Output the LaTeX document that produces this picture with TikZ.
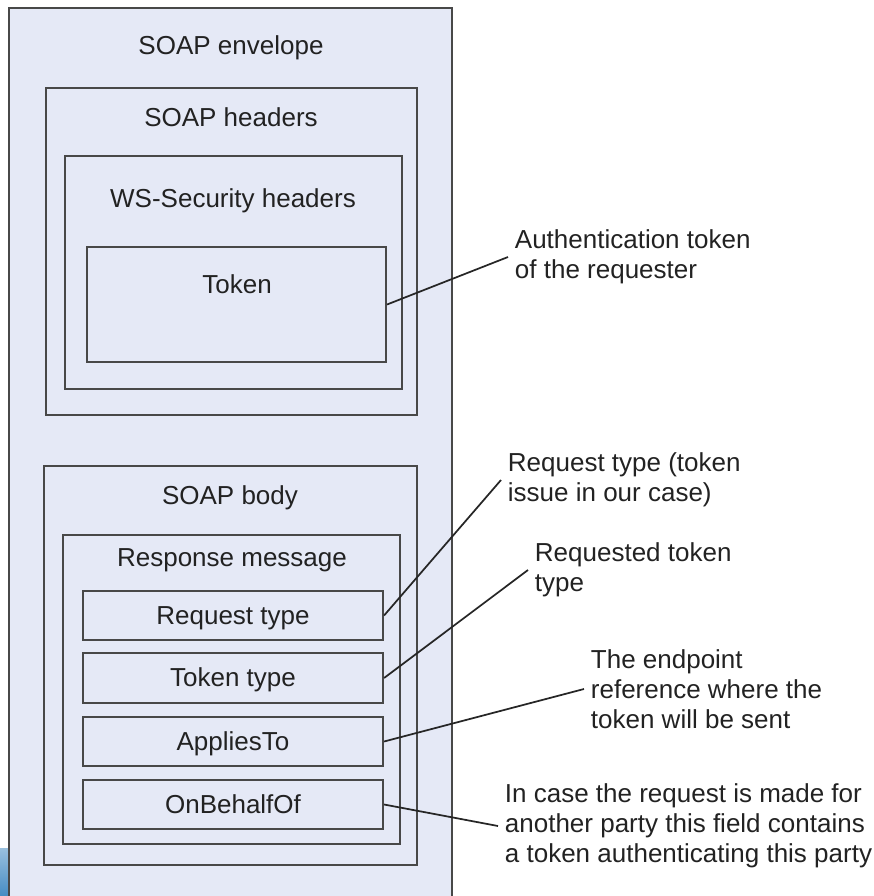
\documentclass[tikz,border=0pt]{standalone}
\usepackage{fontspec}
\setmainfont{Liberation Sans}
\usetikzlibrary{fit}
\definecolor{envfill}{RGB}{229,233,246}
\definecolor{boxline}{RGB}{72,72,72}
\definecolor{txt}{RGB}{34,34,34}
\definecolor{edgeblue}{RGB}{70,140,195}
\begin{document}
\begin{tikzpicture}[x=0.75pt,y=-0.75pt,
  box/.style={draw=boxline,line width=1.6pt,fill=envfill,inner sep=0pt},
  title/.style={text=txt,font=\fontsize{19.5}{22.5}\selectfont,inner sep=0pt,anchor=base},
  note/.style={text=txt,font=\fontsize{19.5}{22.5}\selectfont,align=left,anchor=west,inner sep=5pt},
  link/.style={draw=black!85,line width=1.3pt}]
\useasboundingbox (0,0) rectangle (874,896);

% strip of another window at the lower left edge
\shade[top color=edgeblue!55,bottom color=edgeblue] (0,848) rectangle (9,896);

% envelope and headers
\node[box,fit={(9,8) (452,900)}] (env) {};
\node[title] (envT) at (231,54) {SOAP envelope};
\node[box,fit={(46,88) (417,415)}] (hdr) {};
\node[title] (hdrT) at (231,126) {SOAP headers};
\node[box,fit={(65,156) (402,389)}] (wss) {};
\node[title] (wssT) at (233,207) {WS-Security headers};
\node[box,fit={(87,247) (386,362)}] (tok) {};
\node[title] (tokT) at (237,293) {Token};

% body
\node[box,fit={(44,466) (417,865)}] (body) {};
\node[title] (bodyT) at (230,504) {SOAP body};
\node[box,fit={(63,535) (400,844)}] (resp) {};
\node[title] (respT) at (232,566) {Response message};
\node[box,fit={(83,591) (383,640)}] (rq) {};
\node[title] at (rq.center) [yshift=-6.5pt] {Request type};
\node[box,fit={(83,653) (383,703)}] (tt) {};
\node[title] at (tt.center) [yshift=-6.5pt] {Token type};
\node[box,fit={(83,717) (383,766)}] (ap) {};
\node[title] at (ap.center) [yshift=-6.5pt] {AppliesTo};
\node[box,fit={(83,780) (383,829)}] (ob) {};
\node[title] at (ob.center) [yshift=-6.5pt] {OnBehalfOf};

% annotations
\node[note] (nAuth) at (508,257) {Authentication token\\of the requester};
\node[note] (nRq) at (501,480) {Request type (token\\issue in our case)};
\node[note] (nTt) at (528,570) {Requested token\\type};
\node[note] (nAp) at (584,689) {The endpoint\\reference where the\\token will be sent};
\node[note] (nOb) at (498,826) {In case the request is made for\\another party this field contains\\a token authenticating this party};

\draw[link] (tok.east) -- (nAuth.west);
\draw[link] (rq.east) -- (nRq.west);
\draw[link] (tt.east) -- (nTt.west);
\draw[link] (ap.east) -- (nAp.west);
\draw[link] (ob.east) -- (nOb.west);
\end{tikzpicture}
\end{document}
